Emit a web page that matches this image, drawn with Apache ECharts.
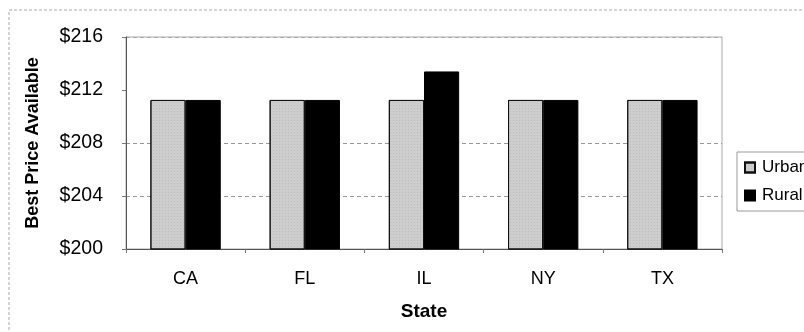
<!DOCTYPE html>
<html>
<head>
<meta charset="utf-8">
<script src="https://cdn.jsdelivr.net/npm/echarts@6/dist/echarts.min.js"></script>
<style>
  html, body { margin: 0; padding: 0; background: #fff; }
  #chart { width: 804px; height: 332px; }
</style>
</head>
<body>
<div id="chart"></div>
<script>
// State-level best available price, urban vs rural
const states = ['CA', 'FL', 'IL', 'NY', 'TX'];
const urban = [211.25, 211.25, 211.25, 211.25, 211.25];
const rural = [211.25, 211.25, 213.4, 211.25, 211.25];
const yTicks = [200, 204, 208, 212, 216];

const font = '"Liberation Sans", Arial, sans-serif';
const chart = echarts.init(document.getElementById('chart'), null, { renderer: 'canvas' });

chart.setOption({
  animation: false,
  backgroundColor: '#fff',
  textStyle: { fontFamily: font },
  graphic: [{
    type: 'rect',
    shape: { x: 9, y: 10, width: 800, height: 330 },
    style: { fill: null, stroke: '#aaa', lineWidth: 1, lineDash: [3, 2] },
    silent: true
  }],
  grid: { left: 126, right: 82, top: 37, bottom: 83, show: true, borderColor: '#aaa', borderWidth: 1 },
  legend: {
    data: ['Urban', 'Rural'],
    orient: 'vertical',
    left: 737, top: 152,
    padding: [7, 8, 7, 7],
    itemGap: 11,
    itemWidth: 10, itemHeight: 10,
    borderColor: '#999', borderWidth: 1,
    textStyle: { fontSize: 17, color: '#000', fontFamily: font, padding: [0, 0, 0, 2] },
    icon: 'rect'
  },
  xAxis: {
    type: 'category',
    data: states,
    name: 'State',
    nameLocation: 'middle',
    nameGap: 53,
    nameTextStyle: { fontSize: 19, fontWeight: 'bold', color: '#000', fontFamily: font },
    axisLine: { lineStyle: { color: '#555' } },
    axisTick: { show: true, lineStyle: { color: '#777' }, length: 4 },
    axisLabel: { fontSize: 18, color: '#000', margin: 21, fontFamily: font }
  },
  yAxis: {
    type: 'value',
    min: yTicks[0], max: yTicks[yTicks.length - 1], interval: 4,
    name: 'Best Price Available',
    nameLocation: 'middle',
    nameGap: 84,
    nameTextStyle: { fontSize: 18, fontWeight: 'bold', color: '#000', fontFamily: font },
    axisLine: { show: true, lineStyle: { color: '#555' } },
    axisTick: { show: true, lineStyle: { color: '#777' }, length: 4 },
    axisLabel: { fontSize: 19.5, color: '#000', margin: 23, formatter: v => '$' + v, fontFamily: font },
    splitLine: { show: true, lineStyle: { color: ['#999', '#999', '#999', 'rgba(0,0,0,0)', '#aaa'], type: [4, 3], width: 1 } }
  },
  series: [
    {
      name: 'Urban', type: 'bar', data: urban,
      barGap: '0%', barCategoryGap: '41%',
      itemStyle: {
        color: '#cdcdcd', borderColor: '#111', borderWidth: 1,
        decal: { symbol: 'rect', symbolSize: 0.5, dashArrayX: [1, 2], dashArrayY: [1, 2], color: 'rgba(70,70,70,0.45)', rotation: 0 }
      }
    },
    {
      name: 'Rural', type: 'bar', data: rural,
      barGap: '0%', barCategoryGap: '41%',
      itemStyle: { color: '#000', borderColor: '#000', borderWidth: 1 }
    }
  ]
});
</script>
</body>
</html>
